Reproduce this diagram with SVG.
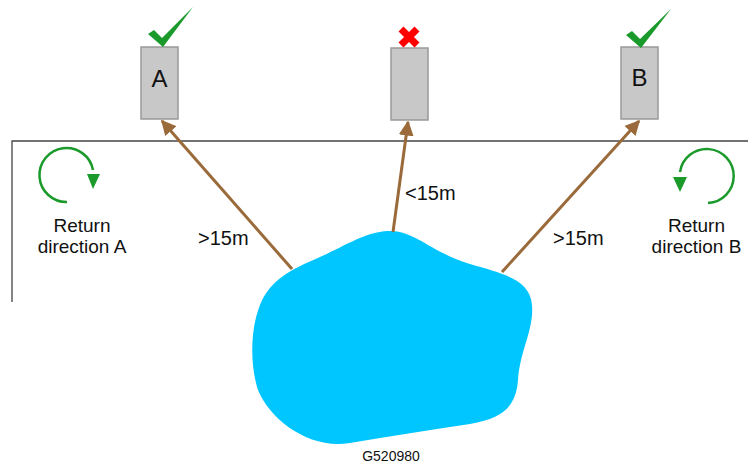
<svg xmlns="http://www.w3.org/2000/svg" width="748" height="464" viewBox="0 0 748 464">
<style>
.box{fill:#c8c8c8;stroke:#999;stroke-width:1.5}
.lbl{font-family:"Liberation Sans",Arial,sans-serif;fill:#111}
.conn{stroke:#9a6a3a;stroke-width:3;fill:none;marker-end:url(#ah)}
.chk{fill:#1a9a2a}
.rot{stroke:#1a9a2a;stroke-width:2.5;fill:none}
</style>
<defs>
<marker id="ah" viewBox="0 0 10 10" refX="9" refY="5" markerWidth="5" markerHeight="5" markerUnits="strokeWidth" orient="auto">
<path d="M0,0 L10,5 L0,10 Z" fill="#9a6a3a"/>
</marker>
</defs>
<rect width="748" height="464" fill="#fff"/>
<g id="frame" fill="none" stroke="#444" stroke-width="1.3">
<path d="M12,302 L12,141 L748,141"/>
</g>
<g id="blob">
<path d="M388,231 C415,230 430,252 470,264 C505,274 530,280 532,305 C534,330 520,350 518,380 C516,405 505,418 470,424 C430,430 390,436 350,443 C310,450 270,420 258,390 C250,365 250,330 260,305 C270,280 290,270 320,257 C345,246 365,232 388,231 Z" fill="#00c6ff"/>
</g>
<g id="connectors">
<line class="conn" x1="292" y1="269" x2="162" y2="121"/>
<line class="conn" x1="393" y1="232" x2="408" y2="122"/>
<line class="conn" x1="502" y1="272" x2="639" y2="121"/>
</g>
<g id="nodeA">
<rect class="box" x="141" y="47" width="37" height="72"/>
<text class="lbl" x="159.5" y="86.5" font-size="24" text-anchor="middle">A</text>
<polygon class="chk" points="148,34 154,30 162,38 193,7 163,47"/>
</g>
<g id="nodeMid">
<rect class="box" x="391" y="48" width="37" height="72"/>
<path d="M401,29 L417,45 M417,29 L401,45" stroke="#ff0000" stroke-width="7"/>
</g>
<g id="nodeB">
<rect class="box" x="621" y="47" width="37" height="72"/>
<text class="lbl" x="639.5" y="85.5" font-size="24" text-anchor="middle">B</text>
<polygon class="chk" points="626,35 632,31 640,39 671,9 641,48"/>
</g>
<g id="labels" class="lbl" font-size="20">
<text x="198" y="245">&gt;15m</text>
<text x="405" y="200">&lt;15m</text>
<text x="553" y="245">&gt;15m</text>
</g>
<g id="returnA">
<path class="rot" d="M67,202 A27,27 0 1 1 93,170"/>
<polygon points="87,174 100,174 93,189" fill="#1a9a2a"/>
<text class="lbl" font-size="19" text-anchor="middle"><tspan x="82" y="231.5">Return</tspan><tspan x="82" y="253">direction A</tspan></text>
</g>
<g id="returnB">
<path class="rot" d="M708,203 A27,27 0 1 0 680,172"/>
<polygon points="673,177 687,177 680,192" fill="#1a9a2a"/>
<text class="lbl" font-size="19" text-anchor="middle"><tspan x="696.5" y="231.5">Return</tspan><tspan x="696.5" y="253">direction B</tspan></text>
</g>
<text class="lbl" x="391" y="461" font-size="14" text-anchor="middle">G520980</text>
</svg>
